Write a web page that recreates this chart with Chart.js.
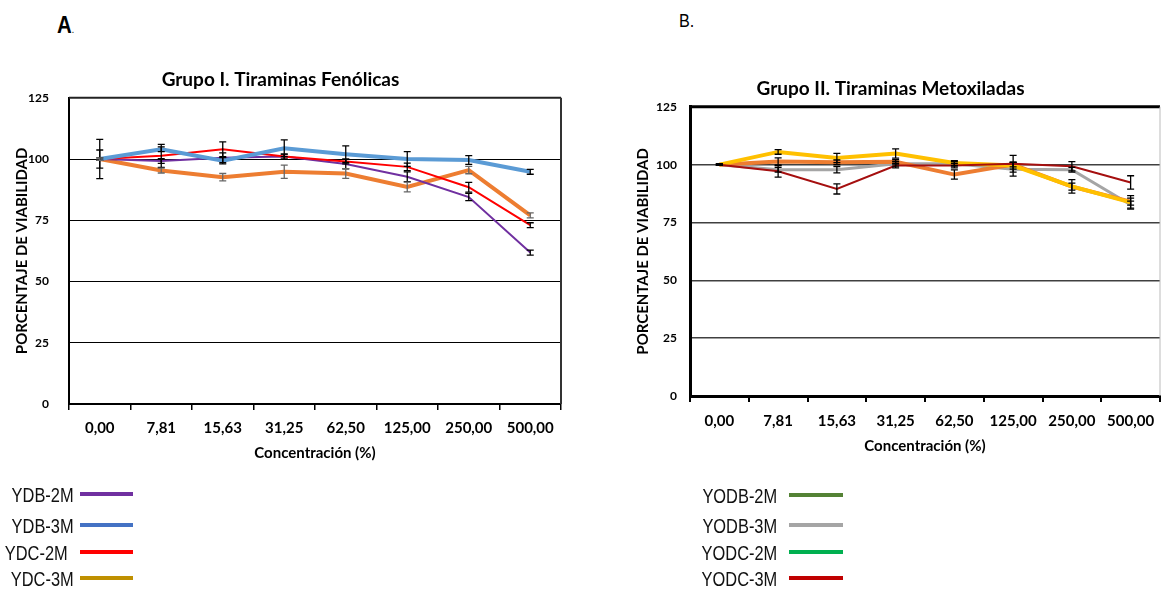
<!DOCTYPE html>
<html>
<head>
<meta charset="utf-8">
<script src="https://cdn.jsdelivr.net/npm/chart.js@4"></script>
<style>
  html, body { margin: 0; padding: 0; background: #fff; overflow: hidden; }
  body { width: 1161px; height: 590px; position: relative; }
  .box { position: absolute; }
  .letter { position: absolute; font-family: 'Liberation Sans', sans-serif; color: #000; transform: scaleX(0.85); transform-origin: left; }
  .leg { position: absolute; left: 0; top: 0; width: 1161px; height: 590px; font-family: 'Liberation Sans', sans-serif; font-size: 20px; color: #111; }
  .leg span { position: absolute; text-align: right; white-space: nowrap; line-height: 24px; transform: scaleX(0.82); transform-origin: right; }
  .leg i { position: absolute; height: 4px; }
</style>
</head>
<body>
<div class="letter" style="left:57px;top:11px;font-size:24px;font-weight:bold;">A<span style="font-size:10px;font-weight:normal">.</span></div>
<div class="letter" style="left:679px;top:10px;font-size:19px;">B.</div>

<div class="box" style="left:0px;top:60px;width:580px;height:410px;"><canvas id="chartI"></canvas></div>
<div class="box" style="left:600px;top:70px;width:640px;height:390px;"><canvas id="chartII"></canvas></div>

<div id="legI" class="leg"></div>
<div id="legII" class="leg"></div>

<script>
const categories = ['0,00', '7,81', '15,63', '31,25', '62,50', '125,00', '250,00', '500,00'];

// Grupo I. Tiraminas Fenólicas
const namesI = ['YDB-2M', 'YDB-3M', 'YDC-2M', 'YDC-3M'];
const ydb2m = [100, 99.2, 100.5, 101, 98, 92.8, 84.5, 61.8];
const ydb3m = [100, 104, 99.3, 104.4, 102, 100, 99.6, 94.8];
const ydc2m = [100, 101.3, 104, 101, 99, 96.8, 88.5, 73];
const ydc3m = [100, 95.3, 92.6, 94.8, 94.1, 88.6, 95.5, 77];
const ydb2mErr = [0.5, 1, 2, 1, 2, 2, 1.5, 1];
const ydb3mErr = [8, 1, 1.3, 3.4, 3.4, 3, 1.8, 1];
const ydc2mErr = [3.7, 4.7, 3, 1, 1, 1.5, 2, 1];
const ydc3mErr = [0.5, 1, 1.5, 2.7, 2, 2, 1.5, 1];
const lineColorsI = ['#7030A0', '#5B9BD5', '#FF0000', '#ED7D31'];
const legendColorsI = ['#7030A0', '#4472C4', '#FF0000', '#BF9000'];

// Grupo II. Tiraminas Metoxiladas
const namesII = ['YODB-2M', 'YODB-3M', 'YODC-2M', 'YODC-3M'];
const yodb2m = [100, 101.4, 101, 101.2, 95.7, 100, 90.5, 84];
const yodb3m = [100, 97.8, 97.8, 100.4, 100.4, 98, 97.8, 82.7];
const yodc2m = [100, 105.5, 102.9, 104.8, 100.7, 99.6, 90.6, 83.7];
const yodc3m = [100, 97.1, 89.5, 99.6, 99.6, 100.4, 99.3, 92.3];
const yodb2mErr = [0.3, 1.5, 1, 1, 2, 1, 1.5, 1.5];
const yodb3mErr = [0.3, 1, 1.4, 1, 1, 3, 1, 1.5];
const yodc2mErr = [0.3, 1, 2, 2, 1, 1.5, 2.9, 2.9];
const yodc3mErr = [0.3, 2.5, 2.2, 1, 1, 3.6, 2, 2.9];
const lineColorsII = ['#ED7D31', '#A5A5A5', '#FFC000', '#A50F0F'];
const legendColorsII = ['#548235', '#A5A5A5', '#00B050', '#C00000'];

const yTicks = [0, 25, 50, 75, 100, 125];

// error bars drawn through the chart scales
const errorBars = {
    id: 'errorBars',
    afterDatasetsDraw(chart) {
        const { ctx, scales: { x, y } } = chart;
        chart.data.datasets.forEach((ds, i) => {
            if (!ds.errors || !chart.isDatasetVisible(i)) return;
            ctx.save();
            ctx.strokeStyle = ds.errColor || '#000';
            ctx.lineWidth = 1.3;
            ds.data.forEach((v, j) => {
                const e = ds.errors[j];
                if (!e) return;
                const px = x.getPixelForValue(j);
                const t = y.getPixelForValue(v + e), b = y.getPixelForValue(v - e);
                ctx.beginPath();
                ctx.moveTo(px, t); ctx.lineTo(px, b);
                ctx.moveTo(px - 3.5, t); ctx.lineTo(px + 3.5, t);
                ctx.moveTo(px - 3.5, b); ctx.lineTo(px + 3.5, b);
                ctx.stroke();
            });
            ctx.restore();
        });
    }
};

// top + right frame of plot area
const frame = {
    id: 'frame',
    afterDraw(chart, args, opts) {
        const { ctx, chartArea: a } = chart;
        ctx.save();
        ctx.strokeStyle = opts.top || '#000';
        ctx.lineWidth = opts.topWidth || 2;
        ctx.beginPath(); ctx.moveTo(a.left, a.top); ctx.lineTo(a.right, a.top); ctx.stroke();
        ctx.strokeStyle = opts.right || '#333';
        ctx.lineWidth = opts.rightWidth || 2;
        ctx.beginPath(); ctx.moveTo(a.right, a.top); ctx.lineTo(a.right, a.bottom); ctx.stroke();
        ctx.restore();
    }
};

function makeSet(label, data, errors, color, width, order, errColor) {
    return { label, data, errors, errColor, borderColor: color, backgroundColor: color,
        borderWidth: width, pointRadius: 0, tension: 0, order, fill: false };
}

function options(cfg) {
    return {
        responsive: true, maintainAspectRatio: false, animation: false,
        layout: { padding: cfg.padding },
        plugins: {
            legend: { display: false }, tooltip: { enabled: false },
            title: { display: true, text: cfg.title, color: '#000',
                font: { family: 'Lato', size: 19, weight: 'bold' }, padding: cfg.titlePad },
            frame: cfg.frame
        },
        scales: {
            x: {
                type: 'category', offset: true,
                grid: { offset: true, drawOnChartArea: false, tickLength: 6, color: '#000', lineWidth: cfg.xTickW },
                border: { color: '#000', width: cfg.axisW },
                ticks: { color: '#000', font: { family: 'Lato', size: 15, weight: 'bold' }, padding: cfg.xPad, maxRotation: 0, autoSkip: false },
                title: { display: true, text: 'Concentración (%)', color: '#000',
                    font: { family: 'Lato', size: 15, weight: 'bold' }, padding: { top: 0, bottom: cfg.xTitlePad } },
                afterFit: s => { s.height = cfg.xHeight; }
            },
            y: {
                min: 0, max: 125,
                afterBuildTicks: s => { s.ticks = yTicks.map(v => ({ value: v })); },
                grid: { color: cfg.gridColor, lineWidth: cfg.gridW, drawTicks: false },
                border: { color: '#000', width: cfg.axisW },
                ticks: { color: '#000', font: { family: 'Lato', size: 12, weight: 'bold' }, padding: cfg.yPad },
                title: { display: true, text: 'PORCENTAJE DE VIABILIDAD', color: '#000',
                    font: { family: 'Lato', size: 15, weight: 'bold' }, padding: { top: 13, bottom: 0 } },
                afterFit: s => { s.width = 69; }
            }
        }
    };
}

new Chart(document.getElementById('chartI'), {
    type: 'line',
    data: {
        labels: categories,
        datasets: [
            makeSet(namesI[0], ydb2m, ydb2mErr, lineColorsI[0], 2, 3, '#000'),
            makeSet(namesI[1], ydb3m, ydb3mErr, lineColorsI[1], 4, 1, '#000'),
            makeSet(namesI[2], ydc2m, ydc2mErr, lineColorsI[2], 2, 2, '#000'),
            makeSet(namesI[3], ydc3m, ydc3mErr, lineColorsI[3], 4, 4, '#666')
        ]
    },
    options: options({
        title: 'Grupo I. Tiraminas Fenólicas',
        padding: { left: 0, right: 19, top: 0, bottom: 0 },
        titlePad: { top: 8, bottom: 7 },
        frame: { top: '#222', topWidth: 2, right: '#333', rightWidth: 2 },
        axisW: 2, xTickW: 1.5, gridColor: '#000', gridW: 1,
        xPad: 9, xTitlePad: 8, xHeight: 66, yPad: 20
    }),
    plugins: [errorBars, frame]
});

new Chart(document.getElementById('chartII'), {
    type: 'line',
    data: {
        labels: categories,
        datasets: [
            makeSet(namesII[0], yodb2m, yodb2mErr, lineColorsII[0], 4, 3, '#000'),
            makeSet(namesII[1], yodb3m, yodb3mErr, lineColorsII[1], 3, 4, '#000'),
            makeSet(namesII[2], yodc2m, yodc2mErr, lineColorsII[2], 4, 2, '#000'),
            makeSet(namesII[3], yodc3m, yodc3mErr, lineColorsII[3], 2, 1, '#000')
        ]
    },
    options: options({
        title: 'Grupo II. Tiraminas Metoxiladas',
        padding: { left: 21, right: 80, top: 0, bottom: 0 },
        titlePad: { top: 7, bottom: 7 },
        frame: { top: '#000', topWidth: 3, right: '#bbb', rightWidth: 1 },
        axisW: 3, xTickW: 2, gridColor: '#404040', gridW: 1.5,
        xPad: 10, xTitlePad: 5, xHeight: 64, yPad: 13
    }),
    plugins: [errorBars, frame]
});

// legends below each chart (text then a line swatch)
function buildLegend(id, names, colors, textRight, lineLeft, lineW, rows, shifts) {
    const el = document.getElementById(id);
    names.forEach((n, i) => {
        const s = document.createElement('span');
        s.textContent = n;
        s.style.right = (1161 - textRight + shifts[i]) + 'px';
        s.style.top = (rows[i] - 11) + 'px';
        el.appendChild(s);
        const l = document.createElement('i');
        l.style.left = lineLeft + 'px';
        l.style.width = lineW + 'px';
        l.style.top = (rows[i] - 2) + 'px';
        l.style.background = colors[i];
        el.appendChild(l);
    });
}
buildLegend('legI', namesI, legendColorsI, 74, 80, 53, [494, 525, 552, 578], [0, 0, 6, 0]);
buildLegend('legII', namesII, legendColorsII, 777, 789, 54, [495, 525, 552, 578], [0, 0, 0, 0]);
</script>
</body>
</html>
